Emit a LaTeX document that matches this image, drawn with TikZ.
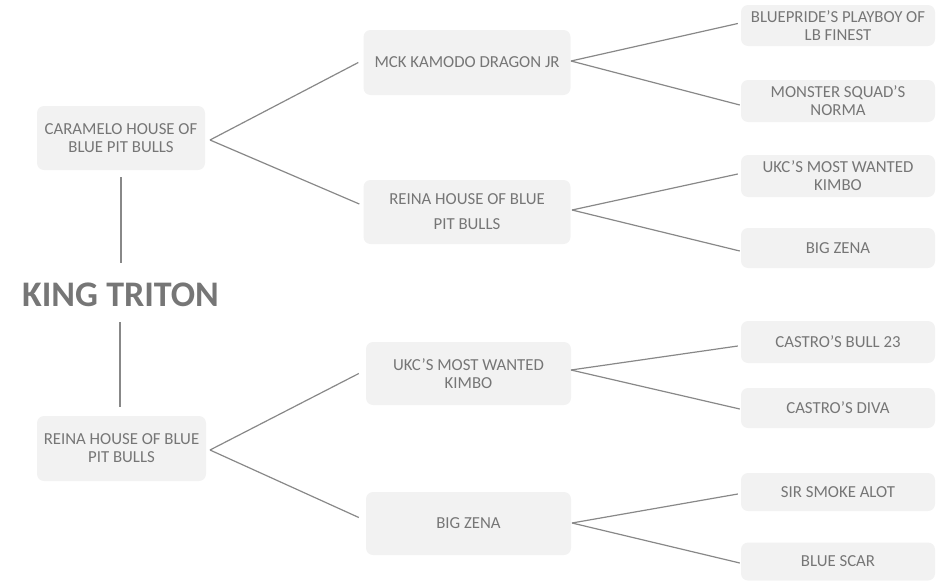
\documentclass[tikz,border=0pt]{standalone}
\usepackage{fontspec}
\setmainfont{Carlito}
\begin{document}
\begin{tikzpicture}[x=1pt,y=-1pt,
  box/.style={fill=boxfill, draw=none, rounded corners=7pt, inner sep=0pt,
    align=center, text=txt, font=\fontsize{16.8}{17.9}\selectfont},
  link/.style={draw=lin, line width=1.2pt},
  ]
\definecolor{boxfill}{HTML}{F2F2F2}
\definecolor{txt}{HTML}{767676}
\definecolor{lin}{HTML}{888888}
\useasboundingbox (0,0) rectangle (940,581);
% generation 1
\node[box, minimum width=168pt, minimum height=64pt] (car) at (121,138) {CARAMELO HOUSE OF\\BLUE PIT BULLS};
\node[box, minimum width=169pt, minimum height=65pt] (rei1) at (121.5,448.5) {REINA HOUSE OF BLUE\\PIT BULLS};
\node[text=txt, font=\fontsize{36}{40}\selectfont\bfseries] (king) at (120.5,295) {KING TRITON};
% generation 2
\node[box, minimum width=207pt, minimum height=65pt] (mck) at (467,62.5) {MCK KAMODO DRAGON JR};
\node[box, minimum width=207pt, minimum height=64pt] (rei2) at (467,212) {REINA HOUSE OF BLUE\\[7pt]PIT BULLS};
\node[box, minimum width=205pt, minimum height=63pt] (ukc2) at (468.5,373.5) {UKC’S MOST WANTED\\KIMBO};
\node[box, minimum width=205pt, minimum height=63pt] (zen2) at (468.5,523.5) {BIG ZENA};
% generation 3
\node[box, minimum width=194pt, minimum height=41pt] (bp) at (838,25.5) {BLUEPRIDE’S PLAYBOY OF\\LB FINEST};
\node[box, minimum width=194pt, minimum height=42pt] (mon) at (838,101) {MONSTER SQUAD’S\\NORMA};
\node[box, minimum width=194pt, minimum height=42pt] (ukcr) at (838,176) {UKC’S MOST WANTED\\KIMBO};
\node[box, minimum width=194pt, minimum height=40pt] (bzr) at (838,248) {BIG ZENA};
\node[box, minimum width=194pt, minimum height=42pt] (cb) at (838,342) {CASTRO’S BULL 23};
\node[box, minimum width=194pt, minimum height=40pt] (cd) at (838,408) {CASTRO’S DIVA};
\node[box, minimum width=194pt, minimum height=38pt] (sir) at (838,492) {SIR SMOKE ALOT};
\node[box, minimum width=194pt, minimum height=38pt] (bs) at (838,561.5) {BLUE SCAR};
% vertical connectors
\coordinate (v1a) at (121,177);
\coordinate (v1b) at (121,263);
\coordinate (v2a) at (120,322);
\coordinate (v2b) at (120,407);
\draw[link] (v1a) -- (v1b);
\draw[link] (v2a) -- (v2b);
% fan connectors
\coordinate (c1) at (210,140);
\coordinate (c2) at (210,450);
\coordinate (m1) at (571,61);
\coordinate (m2) at (572,210);
\coordinate (m3) at (571,370);
\coordinate (m4) at (572,523);
\draw[link] (c1) -- ([xshift=-5pt]mck.west);
\draw[link] (c1) -- ([xshift=-4pt,yshift=8pt]rei2.west);
\draw[link] (c2) -- ([xshift=-7pt]ukc2.west);
\draw[link] (c2) -- ([xshift=-7pt,yshift=6pt]zen2.west);
\draw[link] (m1) -- ([xshift=-3pt,yshift=2pt]bp.west);
\draw[link] (m1) -- ([xshift=-1pt,yshift=-4pt]mon.west);
\draw[link] (m2) -- ([xshift=-3pt,yshift=2pt]ukcr.west);
\draw[link] (m2) -- ([xshift=-1pt,yshift=-3pt]bzr.west);
\draw[link] (m3) -- ([xshift=-3pt,yshift=-4pt]cb.west);
\draw[link] (m3) -- ([xshift=-1pt,yshift=-1pt]cd.west);
\draw[link] (m4) -- ([xshift=-3pt,yshift=-2pt]sir.west);
\draw[link] (m4) -- ([xshift=-1pt,yshift=-1.5pt]bs.west);
\end{tikzpicture}
\end{document}
